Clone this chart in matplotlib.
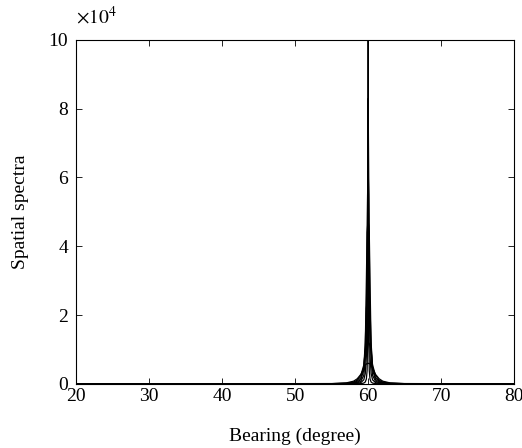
import matplotlib
matplotlib.use("Agg")
import matplotlib.pyplot as plt
from matplotlib.ticker import FuncFormatter

plt.rcParams['font.family'] = ['Liberation Serif', 'DejaVu Serif']
plt.rcParams['mathtext.fontset'] = 'stix'

# Bearing grid (degrees) shared by all runs
bearing = [20, 55, 57, 58, 58.5, 59, 59.4, 59.6, 59.75, 59.85, 59.92, 60,
           60.08, 60.15, 60.25, 60.4, 60.6, 61, 61.5, 62, 63, 65, 80]

# Spatial spectra of the individual runs
run_a = [0, 4, 10, 22, 40, 90, 249, 560, 1420, 3846, 12330, 100000,
         12330, 3846, 1420, 560, 249, 90, 40, 22, 10, 4, 0]
run_b = [0, 10, 30, 80, 150, 400, 1200, 3000, 8000, 25000, 55000, 83000,
         55000, 25000, 8000, 3000, 1200, 400, 150, 80, 30, 10, 0]
run_c = [0, 15, 50, 150, 300, 800, 2500, 7000, 18000, 40000, 55000, 62000,
         55000, 40000, 18000, 7000, 2500, 800, 300, 150, 50, 15, 0]
run_d = [0, 30, 90, 250, 500, 1300, 4000, 11000, 30000, 44000, 46000, 47000,
         46000, 44000, 30000, 11000, 4000, 1300, 500, 250, 90, 30, 0]
run_e = [0, 50, 150, 400, 800, 1800, 5000, 12000, 22000, 24000, 24800, 25000,
         24800, 24000, 22000, 12000, 5000, 1800, 800, 400, 150, 50, 0]
run_f = [0, 80, 220, 550, 1100, 2500, 5500, 9500, 11000, 11700, 11900, 12000,
         11900, 11700, 11000, 9500, 5500, 2500, 1100, 550, 220, 80, 0]
run_g = [0, 110, 300, 800, 1500, 2800, 4500, 5500, 5800, 5900, 5950, 6000,
         5950, 5900, 5800, 5500, 4500, 2800, 1500, 800, 300, 110, 0]

runs = [run_a, run_b, run_c, run_d, run_e, run_f, run_g]

fig = plt.figure(figsize=(5.22, 4.48), dpi=100)
ax = fig.add_axes([0.146, 0.143, 0.839, 0.768])

for r in runs:
    ax.plot(bearing, r, color='black', lw=0.9)

ax.set_xlim(20, 80)
ax.set_ylim(0, 100000)
ax.set_xticks([20, 30, 40, 50, 60, 70, 80])
ax.set_yticks([0, 20000, 40000, 60000, 80000, 100000])

# y labels shown in units of 1e4, with the multiplier drawn above the axis
ax.yaxis.set_major_formatter(FuncFormatter(lambda v, p: f"{v / 1e4:g}"))
ax.text(0.0, 1.035, r"$\times10^4$", transform=ax.transAxes,
        fontsize=14, ha='left', va='bottom')

ax.tick_params(direction='in', top=True, right=True, labelsize=14, length=4, width=0.6)
ax.tick_params(axis='x', pad=3)
ax.tick_params(axis='y', pad=6)
for s in ax.spines.values():
    s.set_linewidth(0.8)

ax.set_xlabel("Bearing (degree)", fontsize=14, labelpad=16)
ax.set_ylabel("Spatial spectra", fontsize=14, labelpad=14)

fig.savefig("out.png", dpi=100)
